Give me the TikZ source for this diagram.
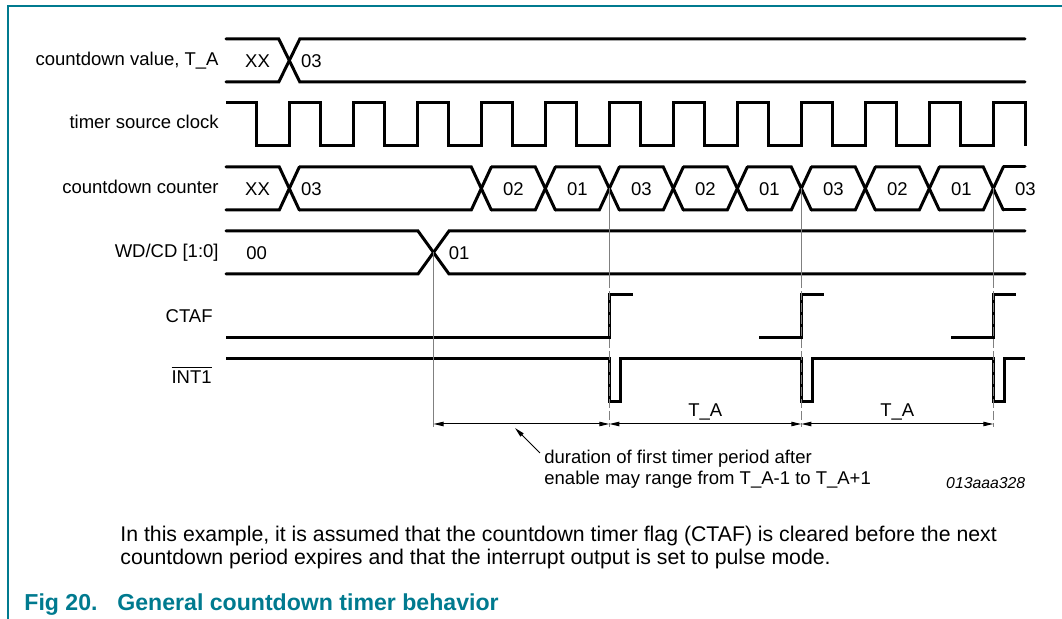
\documentclass[tikz,border=0pt]{standalone}
\usepackage{fontspec}
\setmainfont{Liberation Sans}
\usepackage{tikz}
\usetikzlibrary{arrows.meta}
\definecolor{figteal}{RGB}{0,122,143}
\newcommand{\sigfont}{\fontsize{9.25}{11}\selectfont}
\newcommand{\parfont}{\fontsize{10.63}{11.75}\selectfont}

\begin{document}
\begin{tikzpicture}[x=0.5pt,y=-0.5pt,
		wave/.style={line width=1.5pt},
		bus/.style={line width=1.5pt, line cap=round},
		guide/.style={draw=gray, line width=0.5pt}]
	\useasboundingbox (0,0) rectangle (1062,619);
	\draw[figteal, line width=0.6pt] (1062,6) -- (8,6) -- (8,619);
	% signal names
	\begin{scope}[every node/.style = {anchor=base east, inner sep=0pt, font=\sigfont}]
		\node (cvlbl) at (219,65.7) {countdown value, T\_A};
		\node (clklbl) at (219,129) {timer source clock};
		\node (cntlbl) at (219,193.3) {countdown counter};
		\node (wdlbl) at (219,257.7) {WD/CD [1:0]};
		\node (ctaflbl) at (213,322.7) {CTAF};
		\node (intlbl) at (212,383.3) {$\overline{\hbox{INT1}}$};
	\end{scope}
	% countdown value
	\draw[bus] (226,39) -- (278.8,39) -- (299.8,82) -- (1025,82);
	\draw[bus] (226,82) -- (278.8,82) -- (299.8,39) -- (1025,39);
	% timer source clock
	\draw[wave] (226,103) \foreach \k in {0,...,11} {
			-- ({256.7+64*\k},103) -- ({256.7+64*\k},146)
			-- ({289.3+64*\k},146) -- ({289.3+64*\k},103)}
		-- (1025,103) -- (1025,146);
	% countdown counter
	\foreach \c [remember=\c as \p (initially 216)] in
		{289.3,481.3,545.3,609.3,673.3,737.3,801.3,865.3,929.3,993.3}
		\draw[bus] ({\p+10},167) -- ({\c-10},167) -- ({\c+10},210)
			({\p+10},210) -- ({\c-10},210) -- ({\c+10},167);
	\draw[bus] (1003.3,167) -- (1025,167) (1003.3,210) -- (1025,210);
	% WD/CD
	\draw[bus] (226,231) -- (418,231) -- (449,274) -- (1025,274);
	\draw[bus] (226,274) -- (418,274) -- (449,231) -- (1025,231);
	% CTAF
	\draw[wave] (226,338) -- (609.3,338) -- (609.3,295) -- (632.5,295);
	\foreach \e in {801.3,993.3}
		\draw[wave] ({\e-42},338) -- (\e,338) -- (\e,295) -- ({\e+23},295);
	% INT1
	\draw[wave] (226,359) \foreach \e in {609.3,801.3,993.3} {
			-- (\e,359) -- (\e,402) -- ({\e+11},402) -- ({\e+11},359)}
		-- (1025,359);
	% values
	\begin{scope}[every node/.style = {anchor=base, inner sep=0pt, font=\sigfont}]
		\node (cv1) at (257.5,67.7) {XX};
		\node (cv2) at (311.3,67.7) {03};
		\foreach \x/\v [count=\i] in {257.5/XX,311.3/03,513.3/02,577.3/01,641.3/03,
				705.3/02,769.3/01,833.3/03,897.3/02,961.3/01,1025.3/03}
			\node (cnt\i) at (\x,195.7) {\v};
		\node (wd1) at (256.7,259.3) {00};
		\node (wd2) at (459.2,259.3) {01};
		\node (ta1) at (705.3,416.7) {T\_A};
		\node (ta2) at (897.3,416.7) {T\_A};
	\end{scope}
	% guides
	\coordinate (en) at (433.5,252.5);
	\coordinate (d0) at (433.5,424);
	\coordinate (d1) at (609.3,424);
	\coordinate (d2) at (801.3,424);
	\coordinate (d3) at (993.3,424);
	\draw[guide] (en) -- ([yshift=-1.5pt]d0);
	\foreach \n in {1,2,3} {
		\draw[guide] ([yshift=117.75pt]d\n) -- ([yshift=68pt]d\n);
		\draw[guide, dash pattern=on 4.5pt off 1.5pt] ([yshift=66.5pt]d\n) -- ([yshift=-1.5pt]d\n);
	}
	% dimensions
	\coordinate (nt) at (540,453);
	\coordinate (np) at (515,428);
	\begin{scope}[>={Triangle[length=5pt,width=2.2pt]},
			every edge/.style={draw=black, line width=0.5pt}]
		\path [<->] (d0) edge (d1);
		\path [<->] (d1) edge (d2);
		\path [<->] (d2) edge (d3);
		\path [->] (nt) edge (np);
	\end{scope}
	\begin{scope}[every node/.style = {anchor=base west, inner sep=0pt, font=\sigfont}]
		\node (note1) at (544,463.3) {duration of first timer period after};
		\node (note2) at (544,485) {enable may range from T\_A-1 to T\_A+1};
	\end{scope}
	\node[anchor=base east, inner sep=0pt, font=\fontsize{7.9}{9}\selectfont\itshape] (figid) at (1025.7,488.3) {013aaa328};
	% text below
	\begin{scope}[every node/.style = {anchor=base west, inner sep=0pt, font=\parfont}]
		\node (par1) at (120,541.7) {In this example, it is assumed that the countdown timer flag (CTAF) is cleared before the next};
		\node (par2) at (120,565) {countdown period expires and that the interrupt output is set to pulse mode.};
	\end{scope}
	\begin{scope}[every node/.style = {anchor=base west, inner sep=0pt, text=figteal, font=\fontsize{11.55}{13}\selectfont\bfseries}]
		\node (fignum) at (24,610.5) {Fig 20.};
		\node (figtitle) at (117,610.5) {General countdown timer behavior};
	\end{scope}
\end{tikzpicture}
\end{document}
